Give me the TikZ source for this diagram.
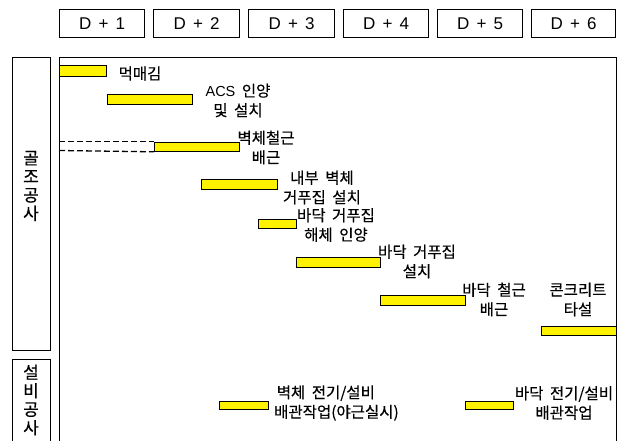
\documentclass[tikz,border=0pt]{standalone}
\usepackage{fontspec}
\setmainfont{Liberation Sans}
\newfontfamily\kr[FakeBold=0.3]{Noto Sans CJK KR}
\newcommand{\hd}[1]{D\hspace{2.5pt} +\hspace{2.5pt} #1}
\newcommand{\krl}{\kr\fontsize{15.5}{19.5}\selectfont\setlength{\spaceskip}{0.42em plus 0.1em}}
\begin{document}
\begin{tikzpicture}[x=1pt,y=-1pt,
  frame/.style={draw=black, line width=1.4pt, inner sep=0, anchor=north west},
  hdr/.style={draw=black, line width=1.3pt, inner sep=0, anchor=north west,
    minimum height=28pt, font=\fontsize{17}{19}\selectfont},
  bar/.style={draw=black, fill=yellow, line width=1.3pt, inner sep=0, anchor=north west, minimum height=10pt},
  lbl/.style={font=\krl, align=center, inner sep=0},
  vlbl/.style={font=\kr\fontsize{17}{18.5}\selectfont, align=center, inner sep=0},
  dashline/.style={line width=1.3pt, dash pattern=on 6pt off 3pt}
]
\clip (0,0) rectangle (619,440);
\fill[white] (0,0) rectangle (619,440);

% header
\node[hdr, minimum width=85pt] (h1) at (59,9) {\hd{1}};
\node[hdr, minimum width=86pt] (h2) at (153,9) {\hd{2}};
\node[hdr, minimum width=86pt] (h3) at (248,9) {\hd{3}};
\node[hdr, minimum width=85pt] (h4) at (343,9) {\hd{4}};
\node[hdr, minimum width=85pt] (h5) at (437,9) {\hd{5}};
\node[hdr, minimum width=84pt] (h6) at (531,9) {\hd{6}};

% frames
\node[frame, minimum width=557pt, minimum height=420pt] (main) at (59,57) {};
\node[frame, minimum width=38pt, minimum height=293pt] (g1) at (12,57) {};
\node[frame, minimum width=38pt, minimum height=100pt] (g2) at (12,359) {};
\node[vlbl] (g1t) at (31,186) {골\\조\\공\\사};
\node[vlbl] (g2t) at (31,400) {설\\비\\공\\사};

% bars
\node[bar, minimum width=47pt, minimum height=11pt] (b1) at (59,65) {};
\node[bar, minimum width=85pt] (b2) at (107,94) {};
\node[bar, minimum width=85pt, minimum height=9pt] (b3) at (154,141.5) {};
\node[bar, minimum width=76pt] (b4) at (201,179) {};
\node[bar, minimum width=38pt, minimum height=9pt] (b5) at (258,219) {};
\node[bar, minimum width=84pt] (b6) at (296,257) {};
\node[bar, minimum width=85pt] (b7) at (380,295) {};
\node[bar, minimum width=75pt, minimum height=9pt] (b8) at (541,326) {};
\node[bar, minimum width=49pt, minimum height=8pt] (b9) at (219,401) {};
\node[bar, minimum width=48pt, minimum height=8pt] (b10) at (465,401) {};

% dashed extension
\coordinate (d1) at (59,141.5);
\coordinate (d2) at (59,150.5);
\draw[dashline] (d1) -- (b3.north west);
\draw[dashline] (d2) -- (b3.south west);

% labels
\node[lbl] (l1) at (140,73.5) {먹매김};
\node[lbl] (l2) at (238,100.5) {{\normalfont\fontsize{14.5}{19.5}\selectfont ACS} 인양\\및 설치};
\node[lbl] (l3) at (266,147.5) {벽체철근\\배근};
\node[lbl] (l4) at (322,187.5) {내부 벽체\\거푸집 설치};
\node[lbl] (l5) at (336,225) {바닥 거푸집\\해체 인양};
\node[lbl] (l6) at (417,261.5) {바닥 거푸집\\설치};
\node[lbl] (l7) at (494,299.5) {바닥 철근\\배근};
\node[lbl] (l8) at (578,299.5) {콘크리트\\타설};
\node[lbl, align=left, anchor=west] (l9) at (274,403) {\,벽체 전기/설비\\배관작업(야근실시)};
\node[lbl] (l10) at (564,403) {바닥 전기/설비\\배관작업};
\end{tikzpicture}
\end{document}
